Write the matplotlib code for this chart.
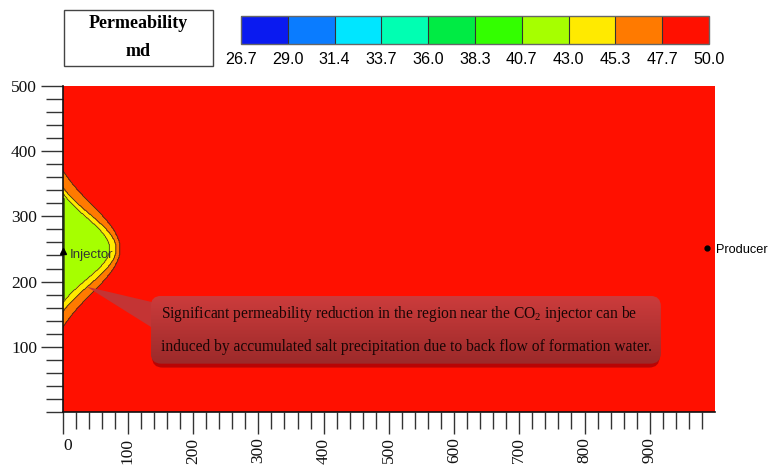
import numpy as np
import matplotlib
matplotlib.use("Agg")
import matplotlib.pyplot as plt
import matplotlib.transforms as mtrans
from matplotlib.colors import ListedColormap, BoundaryNorm, LinearSegmentedColormap
from matplotlib.patches import FancyBboxPatch, Polygon, Rectangle
import matplotlib.colorbar as mcolorbar

plt.rcParams['font.family'] = ['Liberation Serif', 'DejaVu Serif']
plt.rcParams['mathtext.fontset'] = 'custom'
plt.rcParams['mathtext.rm'] = 'Liberation Serif'
plt.rcParams['mathtext.it'] = 'Liberation Serif:italic'

# ---- data ----
cbar_bounds = [26.7, 29.0, 31.4, 33.7, 36.0, 38.3, 40.7, 43.0, 45.3, 47.7, 50.0]
cbar_colors = ['#0A1AF0', '#0A7CFF', '#00E6FF', '#00FFB2', '#00EB44',
               '#33FF00', '#A6FF00', '#FFEA00', '#FF7A00', '#FF1000']
cbar_labels = ['26.7', '29.0', '31.4', '33.7', '36.0', '38.3', '40.7', '43.0', '45.3', '47.7', '50.0']

# reduced-permeability zone around injector: boundaries of contour levels
zone_levels = [43.0, 45.3, 47.7]          # contour level of each boundary
zone_reach_x = [72, 82, 88]               # farthest x of boundary (m)
zone_top_y = [336, 345, 371]              # highest y of boundary at x=0
zone_bot_y = [167, 153, 129]              # lowest y of boundary at x=0
zone_center_y = 250
band_values = [41.9, 44.1, 46.5, 49.0]    # permeability inside each band (inner->outer)
strip_value = 39.5                        # thin strip along injector column
strip_width = 3

injector_xy = (0, 250)
producer_xy = (988, 251)

xticks_major = [0, 100, 200, 300, 400, 500, 600, 700, 800, 900]
yticks_major = [100, 200, 300, 400, 500]

# ---- field ----
gx = np.linspace(0, 1000, 1001)
gy = np.linspace(0, 500, 501)
X, Y = np.meshgrid(gx, gy)
Z = np.full(X.shape, band_values[-1])
masks = []
for reach, top, bot in zip(zone_reach_x, zone_top_y, zone_bot_y):
    dy = Y - zone_center_y
    half = np.where(dy >= 0, top - zone_center_y, zone_center_y - bot)
    s = 0.8 * half
    c = 0.265 * reach
    xedge = (reach + c) * np.exp(-(dy / s) ** 2) - c
    masks.append(X < xedge)
for m, v in zip(masks[::-1], band_values[2::-1]):
    Z[m] = v
strip = masks[0] & (X < strip_width) & (np.abs(Y - zone_center_y) < 78)
Z[strip] = strip_value

cmap = ListedColormap(cbar_colors)
norm = BoundaryNorm(cbar_bounds, cmap.N)

fig = plt.figure(figsize=(7.7, 4.65), dpi=100)
ax = fig.add_axes([62.7 / 770, 1 - 411.9 / 465, (715 - 62.7) / 770, (411.9 - 86) / 465])
ax.contourf(X, Y, Z, levels=cbar_bounds, cmap=cmap, norm=norm)
ax.contour(X, Y, Z, levels=[38.3, 40.7, 43.0, 45.3, 47.7], colors='#3a3a1a', linewidths=0.6)
ax.set_xlim(0, 1000)
ax.set_ylim(0, 500)

for side in ['top', 'right']:
    ax.spines[side].set_visible(False)
for side in ['left', 'bottom']:
    ax.spines[side].set_color('#111111')
    ax.spines[side].set_linewidth(1.2)

ax.set_xticks(xticks_major)
ax.set_xticklabels([str(v) for v in xticks_major], rotation=90, family='Liberation Serif')
ax.set_yticks(yticks_major)
ax.set_yticklabels([str(v) for v in yticks_major], family='Liberation Serif')
ax.set_xticks(np.arange(0, 1000, 20), minor=True)
ax.set_yticks(np.arange(0, 501, 20), minor=True)
ax.tick_params(which='major', direction='out', length=15.5, width=1.0, color='#333333',
               labelsize=12.5, labelcolor='#111111', pad=3)
ax.tick_params(which='minor', direction='out', length=12, width=1.0, color='#333333')
zero_lab = ax.get_xticklabels()[0]
zero_lab.set_rotation(0)
zero_lab.set_transform(zero_lab.get_transform() + mtrans.ScaledTranslation(5 / 100, 0, fig.dpi_scale_trans))

# wells
ax.plot([producer_xy[0]], [producer_xy[1]], 'o', color='black', ms=3.5, clip_on=False, zorder=5)
ax.text(producer_xy[0] + 14, producer_xy[1] - 3, 'Producer', fontsize=9.2,
        family='Liberation Sans', ha='left', va='center', clip_on=False)
ax.plot([injector_xy[0]], [injector_xy[1] - 3], marker='^', color='black', ms=5, clip_on=False, zorder=5)
ax.text(injector_xy[0] + 11, injector_xy[1] - 9, 'Injector', fontsize=9.5,
        family='Liberation Sans', color='#333333', ha='left', va='center')

# callout
box_l, box_r, box_b, box_t = 135, 917, 74, 178
shadow = FancyBboxPatch((box_l + 2, box_b - 6), box_r - box_l - 4, box_t - box_b,
                        boxstyle='round,pad=0,rounding_size=16', fc='#B80404', ec='none', zorder=6)
ax.add_patch(shadow)
ptr = Polygon([[37, 192], [139, 168], [139, 128]], closed=True, fc='#C43434', ec='none', zorder=6)
ax.add_patch(ptr)
box = FancyBboxPatch((box_l, box_b), box_r - box_l, box_t - box_b,
                     boxstyle='round,pad=0,rounding_size=16', fc='none', ec='none', zorder=7)
ax.add_patch(box)
grad = np.linspace(0, 1, 100).reshape(-1, 1)
gcmap = LinearSegmentedColormap.from_list('g', ['#CC3C3C', '#9C2A2A'])
im = ax.imshow(grad, extent=[box_l, box_r, box_b, box_t], cmap=gcmap, aspect='auto',
               origin='upper', zorder=7)
im.set_clip_path(box)
ax.set_xlim(0, 1000)
ax.set_ylim(0, 500)
ax.text(151, 150, r'Significant permeability reduction in the region near the CO$_2$ injector can be',
        fontsize=11.2, family='Liberation Serif', color='#1a0505', ha='left', va='center', zorder=8)
ax.text(151, 99.6, 'induced by accumulated salt precipitation due to back flow of formation water.',
        fontsize=11.2, family='Liberation Serif', color='#1a0505', ha='left', va='center', zorder=8)

# title box
fig.patches.append(Rectangle((64 / 770, 1 - 66 / 465), 149 / 770, 56 / 465, transform=fig.transFigure,
                             fc='white', ec='#444444', lw=1.0))
fig.text(138.5 / 770, 1 - 24 / 465, 'Permeability', fontsize=13, fontweight='bold',
         family='Liberation Serif', ha='center', va='center')
fig.text(138.5 / 770, 1 - 51 / 465, 'md', fontsize=13, fontweight='bold',
         family='Liberation Serif', ha='center', va='center')

# colorbar
cax = fig.add_axes([241 / 770, 1 - 44 / 465, 468 / 770, 28 / 465])
cb = mcolorbar.ColorbarBase(cax, cmap=cmap, norm=norm, boundaries=cbar_bounds,
                            spacing='uniform', orientation='horizontal', drawedges=True,
                            ticks=cbar_bounds)
cb.outline.set_edgecolor('#666666')
cb.outline.set_linewidth(1.0)
cb.dividers.set_color('#333333')
cb.dividers.set_linewidth(0.8)
cax.set_xticks(cbar_bounds)
cax.set_xticklabels(cbar_labels, family='Liberation Sans')
cax.tick_params(length=0, pad=6, labelsize=11.6)

fig.savefig('out.png', dpi=100)
